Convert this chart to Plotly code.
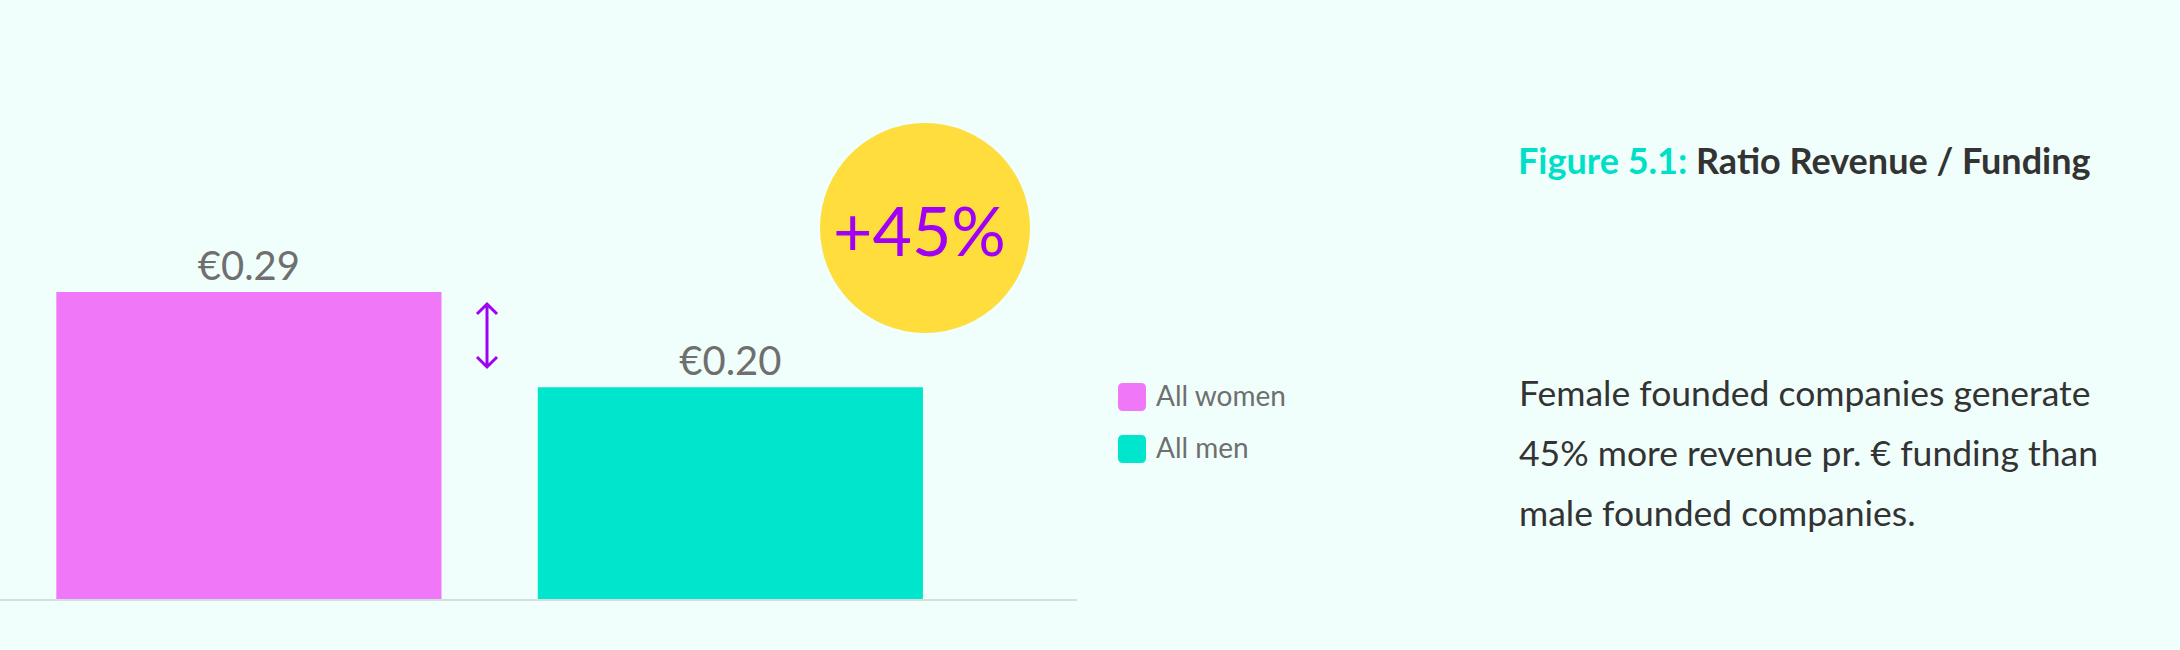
import plotly.graph_objects as go

W, H = 2180, 650

# data
groups = ['All women', 'All men']
ratio = [0.29, 0.20]
bar_colors = ['#f078f8', '#00e6cc']
badge_text = '+45%'
title_lead = 'Figure 5.1:'
title_rest = 'Ratio Revenue / Funding'
body_lines = ['Female founded companies generate',
              '45% more revenue pr. € funding than',
              'male founded companies.']

BG = '#f0fffb'
PURPLE = '#a000f5'
FONT = 'Lato, "Open Sans", sans-serif'


def px(x):
    return x / W


def py(y):
    return (H - y) / H


def rounded_box(x0, y0, x1, y1, r):
    # path in paper coords for a rounded square, given pixel box
    pts = [
        f'M{px(x0 + r)},{py(y0)}',
        f'L{px(x1 - r)},{py(y0)}', f'Q{px(x1)},{py(y0)} {px(x1)},{py(y0 + r)}',
        f'L{px(x1)},{py(y1 - r)}', f'Q{px(x1)},{py(y1)} {px(x1 - r)},{py(y1)}',
        f'L{px(x0 + r)},{py(y1)}', f'Q{px(x0)},{py(y1)} {px(x0)},{py(y1 - r)}',
        f'L{px(x0)},{py(y0 + r)}', f'Q{px(x0)},{py(y0)} {px(x0 + r)},{py(y0)}',
        'Z',
    ]
    return ' '.join(pts)


fig = go.Figure()
fig.add_trace(go.Bar(
    x=groups, y=ratio,
    marker=dict(color=bar_colors, line=dict(width=0)),
    width=0.8,
    texttemplate='€%{y:.2f}',
    textposition='outside',
    textfont=dict(family=FONT, size=40, color='#6f6f6f'),
    cliponaxis=False,
    showlegend=False,
))

shapes = []
annotations = []

# yellow badge
shapes.append(dict(type='circle', xref='paper', yref='paper',
                   x0=px(820), x1=px(1030), y0=py(333), y1=py(123),
                   fillcolor='#ffdd3c', line=dict(width=0), layer='below'))
annotations.append(dict(text=badge_text, xref='paper', yref='paper',
                        x=px(919), y=py(229), showarrow=False,
                        xanchor='center', yanchor='middle',
                        font=dict(family=FONT, size=68, color=PURPLE)))

# double arrow between bars
arrow = (f'M{px(487)},{py(304)} L{px(487)},{py(367)} '
         f'M{px(477)},{py(314)} L{px(487)},{py(304)} L{px(497)},{py(314)} '
         f'M{px(477)},{py(357)} L{px(487)},{py(367)} L{px(497)},{py(357)}')
shapes.append(dict(type='path', xref='paper', yref='paper', path=arrow,
                   line=dict(color=PURPLE, width=3)))

# legend
for i, (name, col) in enumerate(zip(groups, bar_colors)):
    top = 383 + i * 52
    shapes.append(dict(type='path', xref='paper', yref='paper',
                       path=rounded_box(1118, top, 1146, top + 28, 5),
                       fillcolor=col, line=dict(width=0)))
    annotations.append(dict(text=name, xref='paper', yref='paper',
                            x=px(1154), y=py(top + 12), showarrow=False,
                            xanchor='left', yanchor='middle',
                            font=dict(family=FONT, size=28, color='#6f6f6f')))

# title
annotations.append(dict(
    text=f'<b><span style="color:#00e0c8">{title_lead}</span> {title_rest}</b>',
    xref='paper', yref='paper', x=px(1516), y=py(160), showarrow=False,
    xanchor='left', yanchor='middle',
    font=dict(family=FONT, size=36, color='#333333')))

# body text
for i, line in enumerate(body_lines):
    annotations.append(dict(text=line, xref='paper', yref='paper',
                            x=px(1517), y=py(392 + i * 60), showarrow=False,
                            xanchor='left', yanchor='middle',
                            font=dict(family=FONT, size=35.5, color='#333333')))

fig.update_layout(
    width=W, height=H,
    margin=dict(l=0, r=0, t=0, b=0),
    paper_bgcolor=BG, plot_bgcolor=BG,
    shapes=shapes, annotations=annotations,
    xaxis=dict(domain=[0, 1077 / W], range=[-0.517, 1.72],
               showticklabels=False, showgrid=False, zeroline=False,
               showline=True, linecolor='#d3dfdb', linewidth=2, ticks=''),
    yaxis=dict(domain=[51 / H, 1], range=[0, 0.5658], visible=False),
    bargap=0.2,
)

# drop the default page margin so the figure fills the window
fig.write_html('out.html', config={'displayModeBar': False},
               post_script="document.body.style.margin='0';")
